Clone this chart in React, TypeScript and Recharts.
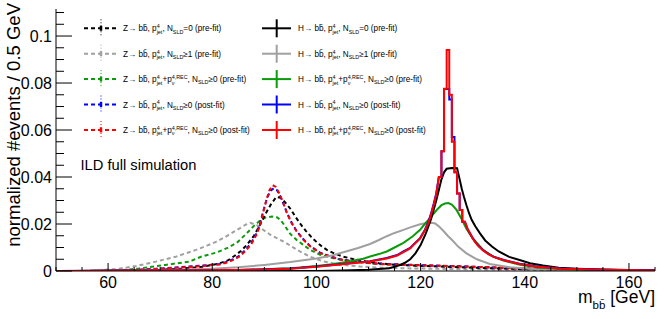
import React from "react";
import { LineChart, Line, XAxis, YAxis } from "recharts";

type Pt = [number, number];

// Z -> bb (dashed), values per 0.5 GeV
const zNoSld: Pt[] = [
  [52, 0], [60, 0.0001], [65, 0.0002], [70, 0.0005], [74, 0.001], [78, 0.0018], [81, 0.003],
  [83, 0.0045], [84.3, 0.0065], [85.5, 0.0085], [86.6, 0.011], [88, 0.015], [89.2, 0.0198],
  [90.4, 0.025], [91.3, 0.0285], [92.3, 0.0315], [93.1, 0.0312], [94, 0.0292], [95, 0.0265],
  [96, 0.023], [97, 0.0198], [98, 0.017], [99, 0.0145], [100, 0.0124], [101, 0.0105], [102, 0.009],
  [103.5, 0.0074], [105, 0.0062], [107, 0.0051], [109.5, 0.0041], [112, 0.0033], [115, 0.0027],
  [120, 0.0022], [126, 0.0017], [133, 0.0012], [140, 0.0008], [148, 0.0005], [156, 0.0003], [165, 0.0001],
];
const zSld: Pt[] = [
  [54, 0], [57.7, 0.0004], [61.5, 0.0008], [65.4, 0.0021], [69.2, 0.004], [73, 0.0061], [76.9, 0.009],
  [79, 0.0108], [80.8, 0.0125], [82.5, 0.0145], [84, 0.0165], [85.5, 0.0185], [86.5, 0.0198],
  [87.3, 0.0205], [88.5, 0.0196], [89.8, 0.0175], [91.1, 0.0155], [92.4, 0.014], [93.7, 0.0125],
  [95.2, 0.0105], [96.9, 0.0082], [98.8, 0.0061], [101.3, 0.0041], [104.5, 0.0027], [108.4, 0.0019],
  [112.2, 0.0014], [118, 0.0011], [125, 0.0009], [135, 0.0006], [145, 0.0004], [155, 0.0002], [165, 0.0001],
];
const zNuPre: Pt[] = [
  [56, 0], [59, 0.0002], [62.8, 0.0004], [66, 0.0011], [71, 0.0026], [75.6, 0.004], [78, 0.0062],
  [80.7, 0.0078], [82.8, 0.0097], [84.7, 0.012], [86.6, 0.016], [87.9, 0.019], [89.2, 0.0215],
  [90.3, 0.0228], [91.5, 0.0232], [92.5, 0.0228], [93.2, 0.0215], [94, 0.019], [94.9, 0.016],
  [96.2, 0.0132], [97.5, 0.0111], [98.8, 0.009], [100.7, 0.0069], [103.3, 0.0054], [106.4, 0.0043],
  [109.7, 0.0034], [112.2, 0.0029], [116, 0.0026], [120, 0.0023], [126, 0.002], [133, 0.0015],
  [139, 0.0011], [147, 0.0007], [155, 0.0004], [165, 0.0002],
];
const zPost: Pt[] = [
  [58, 0], [62, 0.0002], [66, 0.0005], [71, 0.0012], [75, 0.0018], [78, 0.0023], [81.5, 0.003],
  [83, 0.004], [84, 0.005], [85.3, 0.0066], [86.6, 0.0095], [87.6, 0.0125], [88.5, 0.016],
  [89.2, 0.0205], [89.8, 0.0255], [90.5, 0.031], [91.2, 0.0342], [91.8, 0.0352], [92.4, 0.0345],
  [93, 0.032], [93.7, 0.0285], [94.3, 0.025], [95.2, 0.0207], [96.2, 0.017], [97.5, 0.0135],
  [98.8, 0.0106], [100.7, 0.0078], [102.6, 0.0063], [104.5, 0.005], [107, 0.0042], [109.6, 0.0036],
  [112, 0.0031], [116, 0.0028], [120, 0.0025], [126, 0.0021], [133, 0.0016], [139, 0.0011],
  [147, 0.0007], [155, 0.0004], [165, 0.0002],
];
const zNuPost: Pt[] = [
  [58, 0], [62, 0.0002], [66, 0.0005], [71, 0.0011], [75, 0.0016], [78, 0.0021], [81.5, 0.0028],
  [83, 0.0037], [84, 0.0047], [85.3, 0.0062], [86.6, 0.009], [87.6, 0.0118], [88.5, 0.0155],
  [89.2, 0.0196], [89.8, 0.0252], [90.5, 0.031], [91, 0.0345], [91.6, 0.0365], [92.2, 0.0358],
  [93, 0.0325], [93.7, 0.0285], [94.3, 0.0248], [95.2, 0.0205], [96.2, 0.0168], [97.5, 0.0133],
  [98.8, 0.0104], [100.7, 0.0076], [102.6, 0.0062], [104.5, 0.0049], [107, 0.0041], [109.6, 0.0035],
  [112, 0.003], [116, 0.0027], [120, 0.0024], [126, 0.0021], [133, 0.0016], [139, 0.0011],
  [147, 0.0007], [155, 0.0004], [165, 0.0002],
];

// H -> bb (solid)
const hNoSld: Pt[] = [
  [50, 0], [100, 0], [105, 0.0002], [110, 0.0005], [114, 0.0012], [115, 0.0018], [116, 0.0025],
  [117, 0.0035], [118, 0.005], [119, 0.0075], [120, 0.011], [121, 0.016], [122, 0.022], [122.5, 0.026],
  [123, 0.03], [123.5, 0.0345], [124, 0.039], [124.5, 0.042], [125, 0.0435], [126, 0.0438],
  [127, 0.0437], [127.5, 0.039], [127.9, 0.035], [128.3, 0.0317], [128.8, 0.028], [129.3, 0.0246],
  [129.8, 0.0218], [130.5, 0.019], [131.4, 0.016], [132.4, 0.013], [133.7, 0.0104], [135, 0.0083],
  [137, 0.006], [139, 0.0047], [141, 0.0033], [143.5, 0.0023], [146.5, 0.0014], [150, 0.001],
  [155, 0.0006], [160, 0.0004], [165, 0.0002],
];
const hSld: Pt[] = [
  [50, 0], [60, 0], [65, 0.0001], [70, 0.0003], [75, 0.0006], [80, 0.001], [85, 0.0016], [90, 0.0026],
  [95, 0.0038], [100, 0.0053], [103, 0.0066], [106, 0.0085], [108, 0.0098], [110.3, 0.0115],
  [112, 0.0132], [113.5, 0.0148], [115, 0.0162], [116.7, 0.0175], [118.3, 0.0188], [119.9, 0.0199],
  [121, 0.0203], [122.1, 0.0205], [122.8, 0.0202], [123.5, 0.019], [124.4, 0.017], [125.2, 0.015],
  [126, 0.0133], [127.2, 0.0104], [128.8, 0.0075], [130.8, 0.005], [133.3, 0.003], [137.2, 0.0016],
  [142.3, 0.0007], [150, 0.0003], [160, 0.0001], [165, 0.0001],
];
const hNuPre: Pt[] = [
  [50, 0], [70, 0], [80, 0.0002], [85, 0.0004], [90, 0.0007], [95, 0.0012], [97, 0.0015],
  [100, 0.0021], [103, 0.0029], [106, 0.0039], [109, 0.0052], [110.3, 0.0062], [112, 0.0072],
  [113.5, 0.0083], [115, 0.01], [116.7, 0.012], [118.5, 0.0148], [119.9, 0.0175], [120.8, 0.02],
  [121.8, 0.0225], [123.1, 0.026], [124, 0.028], [124.7, 0.0287], [125.3, 0.0289], [126, 0.0283],
  [126.9, 0.026], [127.9, 0.022], [128.8, 0.018], [129.8, 0.0145], [130.8, 0.012], [132, 0.009],
  [134, 0.006], [135.9, 0.0045], [139.1, 0.0026], [142.3, 0.0016], [146.8, 0.0008], [152, 0.0004],
  [158, 0.0002], [165, 0.0001],
];
const hPostLow: Pt[] = [
  [50, 0], [60, 0.0001], [70, 0.0002], [80, 0.0003], [85, 0.0004], [90, 0.0007], [95, 0.0011],
  [100, 0.0019], [105, 0.003], [110.3, 0.0042], [113.5, 0.0055], [115.5, 0.0068], [116.7, 0.0083],
  [118, 0.0098], [118.6, 0.0112], [119.9, 0.014], [120.8, 0.0175], [121.5, 0.021], [122, 0.0245],
  [122.5, 0.0285], [123, 0.033],
];
const hPostPeak = [0.04, 0.051, 0.0775, 0.0775, 0.073, 0.057, 0.042, 0.033, 0.026, 0.021];
const hPostHigh: Pt[] = [
  [129, 0.018], [129.5, 0.016], [130, 0.014], [130.5, 0.0124], [131, 0.011], [132, 0.0088],
  [133, 0.0073], [134, 0.0061], [136, 0.0047], [139, 0.0031], [142, 0.002], [147, 0.0011],
  [155, 0.0005], [165, 0.0002],
];
const hNuPostLow: Pt[] = [
  [50, 0], [60, 0.0001], [70, 0.0002], [80, 0.0003], [85, 0.0004], [90, 0.0006], [95, 0.001],
  [100, 0.0018], [105, 0.0029], [110.3, 0.004], [113.5, 0.0053], [115.5, 0.0066], [116.7, 0.008],
  [118, 0.0096], [118.6, 0.011], [119.9, 0.0138], [120.8, 0.0172], [121.5, 0.0205], [122, 0.024],
  [122.5, 0.028], [123, 0.0325],
];
const hNuPostPeak = [0.04, 0.051, 0.0776, 0.094, 0.075, 0.055, 0.042, 0.033, 0.026, 0.021];
const hNuPostHigh: Pt[] = [
  [129, 0.018], [129.5, 0.016], [130, 0.0138], [130.5, 0.0122], [131, 0.0108], [132, 0.0087],
  [133, 0.0072], [134, 0.006], [136, 0.0046], [139, 0.003], [142, 0.0019], [147, 0.001],
  [155, 0.0005], [165, 0.0002],
];
const peakStart = 123.5;
const binWidth = 0.5;

const xTicks = [50, 55, 60, 65, 70, 75, 80, 85, 90, 95, 100, 105, 110, 115, 120, 125, 130, 135, 140, 145, 150, 155, 160, 165];
const xLabels = [60, 80, 100, 120, 140, 160];
const yTicks = [0, 0.005, 0.01, 0.015, 0.02, 0.025, 0.03, 0.035, 0.04, 0.045, 0.05, 0.055, 0.06, 0.065, 0.07, 0.075, 0.08, 0.085, 0.09, 0.095, 0.1, 0.105, 0.11];
const yLabels = ["0", "0.02", "0.04", "0.06", "0.08", "0.1"];

type Part = string | { sup?: string; sub?: string };
const fitTags = ["=0 (pre-fit)", "\u22651 (pre-fit)", "\u22650 (pre-fit)", "\u22650 (post-fit)", "\u22650 (post-fit)"];
const withNu = [false, false, true, false, true];

const BLACK = "#000000";
const GRAY = "#a0a0a0";
const GREEN = "#0a9a0a";
const BLUE = "#0000ff";
const RED = "#ff0000";
const legendColors = [BLACK, GRAY, GREEN, BLUE, RED];

const PLOT = { left: 56, right: 655, top: 9, bottom: 271 };
const FONT = "'Liberation Sans', Arial, Helvetica, sans-serif";

const histSteps = (start: number, w: number, vals: number[]): Pt[] =>
  vals.flatMap((v, i) => [[start + i * w, v], [start + (i + 1) * w, v]] as Pt[]);

const series = [
  { name: "zSld", data: zSld, color: GRAY, dashed: true },
  { name: "zNuPre", data: zNuPre, color: GREEN, dashed: true },
  { name: "zNoSld", data: zNoSld, color: BLACK, dashed: true },
  { name: "zPost", data: zPost, color: BLUE, dashed: true },
  { name: "zNuPost", data: zNuPost, color: RED, dashed: true },
  { name: "hSld", data: hSld, color: GRAY, dashed: false },
  { name: "hNuPre", data: hNuPre, color: GREEN, dashed: false },
  { name: "hNoSld", data: hNoSld, color: BLACK, dashed: false },
  {
    name: "hPost",
    data: [...hPostLow, ...histSteps(peakStart, binWidth, hPostPeak), ...hPostHigh],
    color: BLUE,
    dashed: false,
  },
  {
    name: "hNuPost",
    data: [...hNuPostLow, ...histSteps(peakStart, binWidth, hNuPostPeak), ...hNuPostHigh],
    color: RED,
    dashed: false,
  },
];

const toRows = (pts: Pt[]) => pts.map(([m, v]) => ({ m, v }));

const isMajorX = (v: number) => xLabels.includes(v);
const isMajorY = (v: number) => Math.abs(v * 50 - Math.round(v * 50)) < 1e-6;

const bottomTick = (props: any) => {
  const v = props.payload.value;
  const x = props.payload.coordinate;
  const major = isMajorX(v);
  return (
    <g>
      <line x1={x} x2={x} y1={PLOT.bottom} y2={PLOT.bottom - (major ? 8 : 4)} stroke="#000" />
      {major && (
        <text x={x} y={PLOT.bottom + 17} textAnchor="middle" fontSize={16} fontFamily={FONT} fill="#000">
          {v}
        </text>
      )}
    </g>
  );
};
const topTick = (props: any) => {
  const v = props.payload.value;
  const x = props.payload.coordinate;
  return <line x1={x} x2={x} y1={PLOT.top} y2={PLOT.top + (isMajorX(v) ? 8 : 4)} stroke="#000" />;
};
const leftTick = (props: any) => {
  const v = props.payload.value;
  const y = props.payload.coordinate;
  const major = isMajorY(v);
  const label = yLabels[Math.round(v * 50)];
  return (
    <g>
      <line x1={PLOT.left} x2={PLOT.left + (major ? 16 : 8)} y1={y} y2={y} stroke="#000" />
      {major && label && (
        <text x={52} y={y + 5.8} textAnchor="end" fontSize={16} fontFamily={FONT} fill="#000">
          {label}
        </text>
      )}
    </g>
  );
};
const rightTick = (props: any) => {
  const v = props.payload.value;
  const y = props.payload.coordinate;
  return <line x1={PLOT.right} x2={PLOT.right - (isMajorY(v) ? 16 : 8)} y1={y} y2={y} stroke="#000" />;
};

const charW: Record<string, number> = {
  "4": 0.556, ",": 0.278, R: 0.722, E: 0.667, C: 0.722, j: 0.222, e: 0.556, t: 0.278, "\u03bd": 0.52,
};
const textW = (s: string, size: number) => s.split("").reduce((a, c) => a + (charW[c] ?? 0.55), 0) * size;

const MAIN = 8.2;
const SMALL = 5.4;

const RichText = ({ x, y, parts }: { x: number; y: number; parts: Part[] }) => {
  const spans: React.ReactNode[] = [];
  let pendDy = 0;
  let pendDx = 0;
  parts.forEach((p, i) => {
    if (typeof p === "string") {
      spans.push(
        <tspan key={i} dx={pendDx || undefined} dy={pendDy || undefined}>
          {p}
        </tspan>
      );
      pendDy = 0;
      pendDx = 0;
    } else if (p.sup && p.sub) {
      const ws = textW(p.sup, SMALL);
      const wb = textW(p.sub, SMALL);
      spans.push(
        <tspan key={i + "a"} dx={pendDx || undefined} dy={pendDy - 3.2} fontSize={SMALL}>
          {p.sup}
        </tspan>
      );
      spans.push(
        <tspan key={i + "b"} dx={-ws} dy={5.6} fontSize={SMALL}>
          {p.sub}
        </tspan>
      );
      pendDy = -2.4;
      pendDx = Math.max(0, ws - wb);
    } else if (p.sub) {
      spans.push(
        <tspan key={i} dx={pendDx || undefined} dy={pendDy + 2.2} fontSize={SMALL}>
          {p.sub}
        </tspan>
      );
      pendDy = -2.2;
      pendDx = 0;
    }
  });
  return (
    <text x={x} y={y} fontSize={MAIN} fontFamily={FONT} fill="#000">
      {spans}
    </text>
  );
};

const legendParts = (boson: string, k: number): Part[] => {
  const head: Part[] = [`${boson}\u2192 bb\u0304, p`, { sup: "4", sub: "jet" }];
  const nu: Part[] = withNu[k] ? ["+p", { sup: "4,REC", sub: "\u03bd" }] : [];
  return [...head, ...nu, ", N", { sub: "SLD" }, fitTags[k]];
};

const rowY = [28.3, 53.7, 79.1, 104.5, 130];

const Overlay = () => (
  <svg width={664} height={319} style={{ position: "absolute", left: 0, top: 0, pointerEvents: "none" }}>
    {rowY.map((y, k) => (
      <g key={"z" + k}>
        <line x1={84} x2={117} y1={y} y2={y} stroke={legendColors[k]} strokeWidth={2} strokeDasharray="4 3" />
        <line x1={101} x2={101} y1={y - 9} y2={y + 9} stroke={legendColors[k]} strokeWidth={1} strokeDasharray="1 2" />
        <line x1={101} x2={101} y1={y - 2.5} y2={y + 2.5} stroke={legendColors[k]} strokeWidth={2.5} />
        <RichText x={123} y={y + 3} parts={legendParts("Z", k)} />
      </g>
    ))}
    {rowY.map((y, k) => (
      <g key={"h" + k}>
        <line x1={262} x2={291} y1={y} y2={y} stroke={legendColors[k]} strokeWidth={2} />
        <line x1={276.7} x2={276.7} y1={y - 9} y2={y + 9} stroke={legendColors[k]} strokeWidth={2} />
        <RichText x={298} y={y + 3} parts={legendParts("H", k)} />
      </g>
    ))}
    <text x={80.5} y={170} fontSize={14.7} fontFamily={FONT} fill="#000">
      ILD full simulation
    </text>
    <text x={PLOT.right} y={303} textAnchor="end" fontSize={17.5} fontFamily={FONT} fill="#000">
      m
      <tspan fontSize={11.5} dy={5.5}>
        bb{"\u0304"}
      </tspan>
      <tspan dy={-5.5}> [GeV]</tspan>
    </text>
    <text
      transform="rotate(-90)"
      x={-3}
      y={19.5}
      textAnchor="end"
      fontSize={18.5}
      fontFamily={FONT}
      fill="#000"
    >
      normalized #events / 0.5 GeV
    </text>
  </svg>
);

export default function App() {
  return (
    <div style={{ position: "relative", width: 664, height: 319, background: "#fff" }}>
      <style>{"body{margin:0;background:#fff}"}</style>
      <LineChart width={664} height={319} margin={{ top: 9, right: 9, bottom: 0, left: 0 }}>
        <XAxis
          xAxisId="b"
          type="number"
          dataKey="m"
          domain={[50, 165]}
          allowDataOverflow
          ticks={xTicks}
          interval={0}
          tick={bottomTick}
          tickLine={false}
          tickSize={0}
          tickMargin={0}
          axisLine={{ stroke: "#000" }}
          height={48}
        />
        <XAxis
          xAxisId="t"
          orientation="top"
          type="number"
          dataKey="m"
          domain={[50, 165]}
          allowDataOverflow
          ticks={xTicks}
          interval={0}
          tick={topTick}
          tickLine={false}
          tickSize={0}
          tickMargin={0}
          axisLine={{ stroke: "#000" }}
          height={0}
        />
        <YAxis
          yAxisId="l"
          type="number"
          domain={[0, 0.1115]}
          allowDataOverflow
          ticks={yTicks}
          interval={0}
          tick={leftTick}
          tickLine={false}
          tickSize={0}
          tickMargin={0}
          axisLine={{ stroke: "#000" }}
          width={56}
        />
        <YAxis
          yAxisId="r"
          orientation="right"
          type="number"
          domain={[0, 0.1115]}
          allowDataOverflow
          ticks={yTicks}
          interval={0}
          tick={rightTick}
          tickLine={false}
          tickSize={0}
          tickMargin={0}
          axisLine={{ stroke: "#000" }}
          width={0}
        />
        <Line
          xAxisId="t"
          yAxisId="r"
          data={toRows(hNoSld)}
          dataKey="v"
          stroke="none"
          dot={false}
          activeDot={false}
          isAnimationActive={false}
        />
        {series.map((s) => (
          <Line
            key={s.name}
            xAxisId="b"
            yAxisId="l"
            data={toRows(s.data)}
            dataKey="v"
            type="linear"
            stroke={s.color}
            strokeWidth={2}
            strokeDasharray={s.dashed ? "4 3" : undefined}
            dot={false}
            activeDot={false}
            isAnimationActive={false}
          />
        ))}
      </LineChart>
      <Overlay />
    </div>
  );
}
